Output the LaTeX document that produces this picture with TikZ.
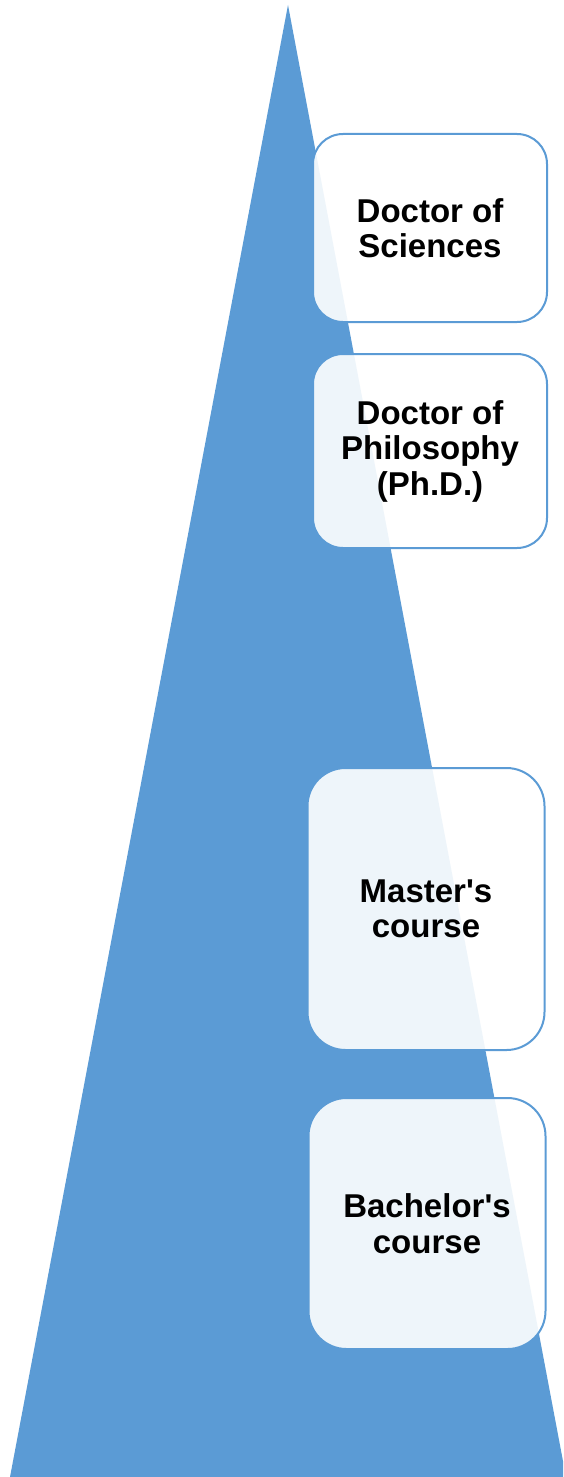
\documentclass[tikz,border=0pt]{standalone}
\usepackage{fontspec}
\setmainfont{Liberation Sans}[Ligatures=TeXOff]
\usepackage{xcolor}
\usepackage{tikz}
\usetikzlibrary{shapes,positioning}

\definecolor{triblue}{HTML}{5B9BD5}

\tikzset{
    levelbox/.style={draw=triblue, line width=2pt, fill=white, fill opacity=0.9,
        text opacity=1, rectangle, align=center, inner sep=0pt,
        font=\fontsize{33}{35.5}\selectfont\bfseries}
}

\begin{document}
\begin{tikzpicture}[x=1pt,y=-1pt]
    \useasboundingbox (0,0) rectangle (563,1477);

    % Triangle
    \begin{scope}
        \clip (0,0) rectangle (563,1477);
        \fill[triblue] (288,5) -- (566,1477) -- (10,1477) -- cycle;
    \end{scope}

    % Doctor of Sciences
    \node[levelbox, rounded corners=30pt, minimum width=234pt, minimum height=188pt]
        (sci) at (430,228) {Doctor of\\Sciences};

    % Doctor of Philosophy
    \node[levelbox, rounded corners=30pt, minimum width=234pt, minimum height=194pt]
        (phd) at (430,451) {Doctor of\\Philosophy\\(Ph.D.)};

    % Master's course
    \node[levelbox, rounded corners=38pt, minimum width=237pt, minimum height=282pt]
        (master) at (426,909) {Master's\\course};

    % Bachelor's course
    \node[levelbox, rounded corners=38pt, minimum width=237pt, minimum height=251pt]
        (bachelor) at (427,1223.5) {Bachelor's\\course};
\end{tikzpicture}
\end{document}
